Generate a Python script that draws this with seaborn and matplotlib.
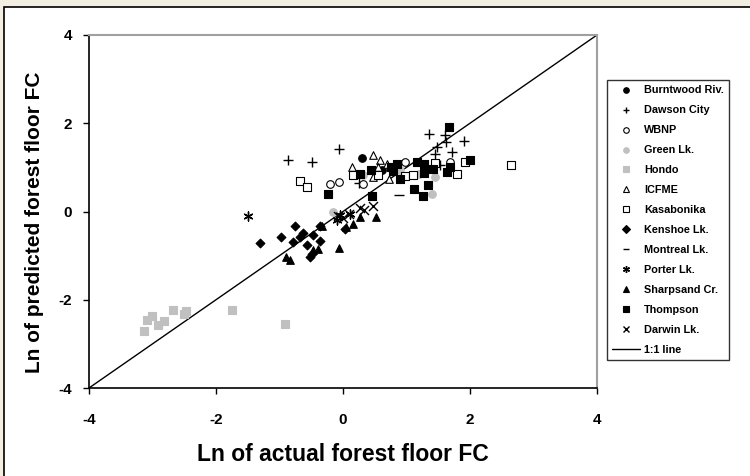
import numpy as np
import pandas as pd
import seaborn as sns
import matplotlib.pyplot as plt
from matplotlib.patches import Rectangle
from matplotlib.lines import Line2D

# Datos (ln actual, ln predicho)
burntwood_x = [0.30, 0.62]
burntwood_y = [1.22, 0.95]
dawson_x = [-0.86, -0.49, -0.07, 0.25, 1.35, 1.60, 1.62, 1.90, 1.48, 1.72, 1.45, 1.52]
dawson_y = [1.17, 1.12, 1.42, 0.65, 1.76, 1.74, 1.57, 1.60, 1.47, 1.34, 1.31, 1.05]
wbnp_x = [-0.21, -0.06, 0.32, 0.97, 1.68, 0.55]
wbnp_y = [0.63, 0.66, 0.62, 1.13, 1.12, 0.90]
green_x = [-0.15, 0.32, 0.55, 0.90, 1.20, 1.45, 1.40]
green_y = [0.00, 0.82, 0.85, 0.95, 0.85, 0.78, 0.40]
hondo_x = [-3.13, -3.09, -3.01, -2.92, -2.82, -2.68, -2.47, -2.50, -1.75, -0.91]
hondo_y = [-2.70, -2.47, -2.36, -2.57, -2.49, -2.23, -2.26, -2.32, -2.24, -2.56]
icfme_x = [0.47, 0.14, 0.58, 0.70, 0.48, 0.72, 0.55]
icfme_y = [1.28, 1.00, 1.16, 1.08, 0.78, 0.74, 1.00]
kasab_x = [-0.68, -0.57, 0.15, 0.55, 0.97, 1.10, 1.45, 1.92, 1.80, 2.64]
kasab_y = [0.70, 0.55, 0.83, 0.83, 0.80, 0.82, 1.10, 1.12, 0.86, 1.05]
kenshoe_x = [-1.31, -0.98, -0.75, -0.78, -0.63, -0.67, -0.57, -0.48, -0.36, -0.52, -0.49, -0.36, 0.03]
kenshoe_y = [-0.72, -0.58, -0.32, -0.70, -0.48, -0.58, -0.75, -0.54, -0.66, -1.04, -0.96, -0.32, -0.39]
montreal_x = [0.88]
montreal_y = [0.37]
porter_x = [-1.49, -0.05, 0.11, -0.10]
porter_y = [-0.11, -0.09, -0.05, -0.20]
sharp_x = [-0.89, -0.83, -0.47, -0.39, -0.33, -0.06, 0.05, 0.15, 0.26, 0.52]
sharp_y = [-1.04, -1.10, -0.88, -0.85, -0.32, -0.83, -0.35, -0.28, -0.12, -0.12]
thompson_x = [-0.23, 0.45, 1.67, 0.26, 0.44, 0.75, 0.85, 0.78, 0.89, 1.16, 1.28, 1.28,
              1.41, 1.63, 1.68, 2.00, 1.12, 1.34, 1.26]
thompson_y = [0.39, 0.35, 1.91, 0.86, 0.93, 1.00, 1.07, 0.92, 0.74, 1.12, 1.07, 0.88,
              0.96, 0.89, 1.01, 1.17, 0.50, 0.60, 0.35]
darwin_x = [-0.08, 0.10, 0.27, 0.33, 0.48, 0.00]
darwin_y = [-0.10, -0.06, 0.08, 0.04, 0.12, -0.15]

linea_x = [-4, 4]
ticks = [-4, -2, 0, 2, 4]

gris = '#c0c0c0'
# nombre, x, y, marcador, relleno, borde
sitios = [
    ('Burntwood Riv.', burntwood_x, burntwood_y, 'o', 'black', 'black'),
    ('Dawson City', dawson_x, dawson_y, '+', 'black', None),
    ('WBNP', wbnp_x, wbnp_y, 'o', 'white', 'black'),
    ('Green Lk.', green_x, green_y, 'o', gris, gris),
    ('Hondo', hondo_x, hondo_y, 's', gris, gris),
    ('ICFME', icfme_x, icfme_y, '^', 'white', 'black'),
    ('Kasabonika', kasab_x, kasab_y, 's', 'white', 'black'),
    ('Kenshoe Lk.', kenshoe_x, kenshoe_y, 'D', 'black', 'black'),
    ('Montreal Lk.', montreal_x, montreal_y, '_', 'black', None),
    ('Porter Lk.', porter_x, porter_y, (6, 2, 0), 'black', None),
    ('Sharpsand Cr.', sharp_x, sharp_y, '^', 'black', 'black'),
    ('Thompson', thompson_x, thompson_y, 's', 'black', 'black'),
    ('Darwin Lk.', darwin_x, darwin_y, 'x', 'black', None),
]

sns.set_style('white')
plt.rcParams['font.family'] = ['Liberation Sans', 'DejaVu Sans']
plt.rcParams['font.weight'] = 'bold'
plt.rcParams['axes.unicode_minus'] = False
plt.rcParams['text.color'] = 'black'
plt.rcParams['axes.labelcolor'] = 'black'
plt.rcParams['xtick.color'] = 'black'
plt.rcParams['ytick.color'] = 'black'

fig = plt.figure(figsize=(7.5, 4.76), dpi=100)
fig.patch.set_facecolor('#f3eee2')
fondo = Rectangle((4 / 750, -0.01), 1.0, 1 - 7 / 476 + 0.01, transform=fig.transFigure,
                  facecolor='white', edgecolor='black', linewidth=1.2, zorder=-5)
fig.add_artist(fondo)
ax = fig.add_axes([89 / 750, 1 - 388 / 476, 508 / 750, 353 / 476])
ax.set_zorder(2)

sns.lineplot(x=linea_x, y=linea_x, color='black', linewidth=1, ax=ax, zorder=1)

handles = []
for nombre, xs, ys, m, fc, ec in sitios:
    df = pd.DataFrame({'x': xs, 'y': ys})
    tam = 30 if m != 'D' else 20
    if ec is None:
        sns.scatterplot(data=df, x='x', y='y', marker=m, color=fc, s=42, linewidth=1, ax=ax, zorder=3)
        handles.append(Line2D([], [], linestyle='none', marker=m, color=fc, markersize=5, markeredgewidth=1))
    else:
        sns.scatterplot(data=df, x='x', y='y', marker=m, color=fc, edgecolor=ec, s=tam, linewidth=0.8,
                        ax=ax, zorder=3)
        handles.append(Line2D([], [], linestyle='none', marker=m, markerfacecolor=fc, markeredgecolor=ec,
                              markersize=4, markeredgewidth=0.8))
handles.append(Line2D([], [], color='black', linewidth=1))
etiquetas = [s[0] for s in sitios] + ['1:1 line']

ax.set_xlim(-4, 4)
ax.set_ylim(-4, 4)
ax.set_xticks(ticks)
ax.set_yticks(ticks)
ax.tick_params(axis='both', direction='out', length=4, width=1, color='black', labelcolor='black',
               labelsize=11, bottom=True, left=True)
ax.tick_params(axis='x', pad=14)
ax.tick_params(axis='y', pad=8)
for lab in ax.get_xticklabels() + ax.get_yticklabels():
    lab.set_fontweight('bold')
for lado in ['left', 'bottom']:
    ax.spines[lado].set_color('black')
    ax.spines[lado].set_linewidth(1.2)
for lado in ['top', 'right']:
    ax.spines[lado].set_color('#a0a0a0')
    ax.spines[lado].set_linewidth(1.5)

ax.set_xlabel('Ln of actual forest floor FC', fontsize=16.5, fontweight='bold')
ax.set_ylabel('Ln of predicted forest floor FC', fontsize=15, fontweight='bold')
ax.xaxis.set_label_coords(0.5, -0.155)
ax.yaxis.set_label_coords(-0.088, 0.47)

leg = fig.legend(handles, etiquetas, loc='upper left', bbox_to_anchor=(607 / 750, 1 - 80 / 476),
                 bbox_transform=fig.transFigure, frameon=True, fancybox=False,
                 prop={'weight': 'bold', 'size': 7.8}, handlelength=2.5, handletextpad=0.4,
                 labelspacing=0.92, borderpad=0.5, borderaxespad=0)
leg.get_frame().set_edgecolor('black')
leg.get_frame().set_linewidth(1)

plt.savefig('out.png', dpi=100, facecolor=fig.get_facecolor())
